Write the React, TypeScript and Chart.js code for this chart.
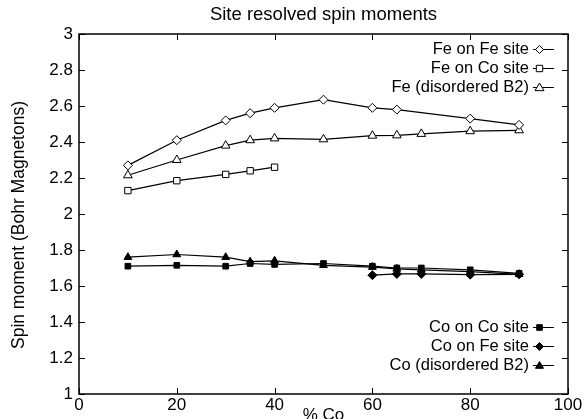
import React, { useEffect, useRef } from "react";
import { Chart, registerables } from "chart.js";

Chart.register(...registerables);

const xFeFe = [10, 20, 30, 35, 40, 50, 60, 65, 80, 90];
const yFeFe = [2.27, 2.41, 2.52, 2.56, 2.59, 2.635, 2.59, 2.58, 2.53, 2.495];
const xFeCo = [10, 20, 30, 35, 40];
const yFeCo = [2.13, 2.185, 2.22, 2.24, 2.26];
const xFeB2 = [10, 20, 30, 35, 40, 50, 60, 65, 70, 80, 90];
const yFeB2 = [2.215, 2.3, 2.38, 2.41, 2.42, 2.415, 2.435, 2.437, 2.445, 2.46, 2.465];
const xCoCo = [10, 20, 30, 35, 40, 50, 60, 65, 70, 80, 90];
const yCoCo = [1.71, 1.715, 1.71, 1.725, 1.72, 1.725, 1.71, 1.7, 1.7, 1.69, 1.67];
const xCoFe = [60, 65, 70, 80, 90];
const yCoFe = [1.66, 1.667, 1.667, 1.663, 1.665];
const xCoB2 = [10, 20, 30, 35, 40, 50, 60, 65, 70, 80, 90];
const yCoB2 = [1.76, 1.775, 1.76, 1.735, 1.74, 1.715, 1.705, 1.695, 1.69, 1.68, 1.665];

const seriesNames = [
  "Fe on Fe site",
  "Fe on Co site",
  "Fe (disordered B2)",
  "Co on Co site",
  "Co on Fe site",
  "Co (disordered B2)",
];

const FONT = "'Liberation Sans', Arial, Helvetica, sans-serif";

const pts = (xs: number[], ys: number[]) => xs.map((x, i) => ({ x, y: ys[i] }));

type Style = { shape: string; filled: boolean; r: number };
const styles: Style[] = [
  { shape: "rectRot", filled: false, r: 4.5 },
  { shape: "rect", filled: false, r: 4.5 },
  { shape: "triangle", filled: false, r: 5 },
  { shape: "rect", filled: true, r: 4 },
  { shape: "rectRot", filled: true, r: 4.5 },
  { shape: "triangle", filled: true, r: 4.5 },
];

function drawMarker(ctx: CanvasRenderingContext2D, s: Style, x: number, y: number) {
  ctx.save();
  ctx.beginPath();
  const r = s.r;
  if (s.shape === "rect") {
    ctx.rect(x - r * 0.8, y - r * 0.8, r * 1.6, r * 1.6);
  } else if (s.shape === "rectRot") {
    ctx.moveTo(x, y - r);
    ctx.lineTo(x + r, y);
    ctx.lineTo(x, y + r);
    ctx.lineTo(x - r, y);
    ctx.closePath();
  } else {
    ctx.moveTo(x, y - r);
    ctx.lineTo(x + r, y + r * 0.7);
    ctx.lineTo(x - r, y + r * 0.7);
    ctx.closePath();
  }
  ctx.fillStyle = s.filled ? "#000" : "#fff";
  ctx.fill();
  ctx.strokeStyle = "#000";
  ctx.lineWidth = 1;
  ctx.stroke();
  ctx.restore();
}

const decorPlugin = {
  id: "decor",
  afterDraw(chart: any) {
    const ctx: CanvasRenderingContext2D = chart.ctx;
    const { left, right, top, bottom } = chart.chartArea;
    const xs = chart.scales.x;
    const ys = chart.scales.y;
    ctx.save();
    // frame
    ctx.strokeStyle = "#000";
    ctx.lineWidth = 1.5;
    ctx.strokeRect(left, top, right - left, bottom - top);
    // inward ticks
    ctx.lineWidth = 1;
    const tl = 6;
    ctx.beginPath();
    xs.ticks.forEach((t: any) => {
      const px = Math.round(xs.getPixelForValue(t.value)) + 0.5;
      ctx.moveTo(px, bottom);
      ctx.lineTo(px, bottom - tl);
      ctx.moveTo(px, top);
      ctx.lineTo(px, top + tl);
    });
    ys.ticks.forEach((t: any) => {
      const py = Math.round(ys.getPixelForValue(t.value)) + 0.5;
      ctx.moveTo(left, py);
      ctx.lineTo(left + tl, py);
      ctx.moveTo(right, py);
      ctx.lineTo(right - tl, py);
    });
    ctx.stroke();

    ctx.fillStyle = "#000";
    // title
    ctx.font = `18.5px ${FONT}`;
    ctx.textAlign = "center";
    ctx.textBaseline = "middle";
    ctx.fillText("Site resolved spin moments", (left + right) / 2, 15);
    // x title
    ctx.font = `17px ${FONT}`;
    ctx.textBaseline = "alphabetic";
    ctx.fillText("% Co", (left + right) / 2, 420);
    // y title
    ctx.save();
    ctx.font = `17.5px ${FONT}`;
    ctx.translate(19, 225);
    ctx.rotate(-Math.PI / 2);
    ctx.textBaseline = "middle";
    ctx.fillText("Spin moment (Bohr Magnetons)", 0, 0);
    ctx.restore();

    // legends
    ctx.font = `16.5px ${FONT}`;
    ctx.textAlign = "right";
    ctx.textBaseline = "middle";
    const textX = right - 39;
    const lineA = right - 35;
    const lineB = right - 14;
    const rowsY = [top + 15, top + 34, top + 53, bottom - 67, bottom - 48, bottom - 29];
    seriesNames.forEach((name, i) => {
      const y = rowsY[i];
      ctx.fillText(name, textX, y);
      ctx.beginPath();
      ctx.lineWidth = 1;
      ctx.moveTo(lineA, y + 0.5);
      ctx.lineTo(lineB, y + 0.5);
      ctx.stroke();
      drawMarker(ctx, { ...styles[i], r: styles[i].r - 0.5 }, (lineA + lineB) / 2 - 4, y + 0.5);
    });
    ctx.restore();
  },
};

export default function App() {
  const ref = useRef<HTMLCanvasElement | null>(null);
  useEffect(() => {
    if (!ref.current) return;
    const data = [
      pts(xFeFe, yFeFe),
      pts(xFeCo, yFeCo),
      pts(xFeB2, yFeB2),
      pts(xCoCo, yCoCo),
      pts(xCoFe, yCoFe),
      pts(xCoB2, yCoB2),
    ];
    const chart = new Chart(ref.current, {
      type: "line",
      data: {
        datasets: data.map((d, i) => ({
          label: seriesNames[i],
          data: d,
          borderColor: "#000",
          borderWidth: 1.2,
          backgroundColor: styles[i].filled ? "#000" : "#fff",
          pointStyle: styles[i].shape as any,
          pointRadius: styles[i].r,
          pointBorderColor: "#000",
          pointBorderWidth: 1,
          pointBackgroundColor: styles[i].filled ? "#000" : "#fff",
          tension: 0,
          fill: false,
        })),
      },
      options: {
        responsive: false,
        animation: false,
        layout: { padding: { top: 34, right: 17, left: 0, bottom: 0 } },
        plugins: {
          legend: { display: false },
          title: { display: false },
          tooltip: { enabled: false },
        },
        scales: {
          x: {
            type: "linear",
            min: 0,
            max: 100,
            grid: { display: false, drawTicks: false },
            border: { display: false },
            ticks: {
              stepSize: 20,
              padding: 1,
              color: "#000",
              font: { family: FONT, size: 17 },
              maxRotation: 0,
            },
            afterFit: (s: any) => {
              s.height = 25;
            },
          },
          y: {
            type: "linear",
            min: 1,
            max: 3,
            grid: { display: false, drawTicks: false },
            border: { display: false },
            ticks: {
              stepSize: 0.2,
              padding: 6,
              color: "#000",
              font: { family: FONT, size: 17 },
              callback: (v: any) => String(Math.round(Number(v) * 10) / 10),
            },
            afterFit: (s: any) => {
              s.width = 79;
            },
          },
        },
      },
      plugins: [decorPlugin],
    });
    return () => chart.destroy();
  }, []);
  return (
    <div style={{ position: "fixed", left: 0, top: 0, width: 585, height: 419, background: "#fff" }}>
      <canvas ref={ref} width={585} height={419} />
    </div>
  );
}
